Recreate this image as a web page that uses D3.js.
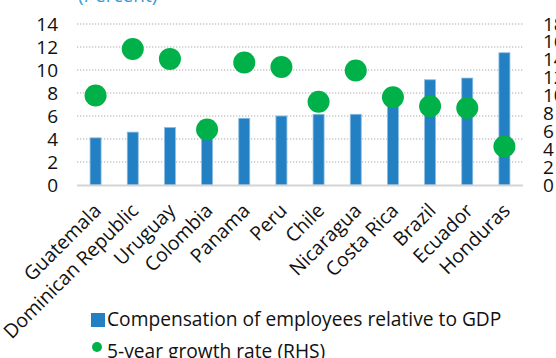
<!DOCTYPE html>
<html>
<head>
<meta charset="utf-8">
<script src="https://cdn.jsdelivr.net/npm/d3@7"></script>
<style>
    html, body { margin: 0; padding: 0; background: #fff; }
    svg text { font-family: "Open Sans", sans-serif; }
</style>
</head>
<body>
<svg id="chart" width="556" height="358"></svg>
<script>
// Chart data
var countries = ["Guatemala", "Dominican Republic", "Uruguay", "Colombia", "Panama", "Peru",
    "Chile", "Nicaragua", "Costa Rica", "Brazil", "Ecuador", "Honduras"];
var compensation = [4.1, 4.6, 5.0, 5.2, 5.8, 6.0, 6.15, 6.15, 7.6, 9.15, 9.3, 11.5];
var growth = [10.0, 15.2, 14.1, 6.2, 13.7, 13.2, 9.3, 12.8, 9.8, 8.8, 8.6, 4.3];
var leftTicks = [0, 2, 4, 6, 8, 10, 12, 14];
var rightTicks = [0, 2, 4, 6, 8, 10, 12, 14, 16, 18];

var svg = d3.select("#chart");

// plot area (named so they don't clash with window.top)
var plotLeft = 77, plotRight = 523, plotTop = 24, plotBottom = 185;

var x = d3.scaleBand()
    .domain(countries)
    .range([plotLeft, plotRight]);

var y = d3.scaleLinear().domain([0, 14]).range([plotBottom, plotTop]);
var y2 = d3.scaleLinear().domain([0, 18]).range([plotBottom, plotTop]);

// title, mostly cut off at the top
svg.append("text")
    .attr("x", 78)
    .attr("y", 2)
    .attr("fill", "#3a9ad4")
    .style("font-size", "19px")
    .text("(Percent)");

// dotted gridlines
svg.append("g")
    .selectAll("line")
    .data(leftTicks.slice(1))
    .join("line")
    .attr("x1", plotLeft)
    .attr("x2", plotRight)
    .attr("y1", function (d) { return y(d); })
    .attr("y2", function (d) { return y(d); })
    .attr("stroke", "#c8c8c8")
    .attr("stroke-width", 1.3)
    .attr("stroke-dasharray", "1.3,1.7");

// bars
var bw = 11;
svg.append("g")
    .selectAll("rect")
    .data(countries)
    .join("rect")
    .attr("x", function (d) { return x(d) + x.bandwidth() / 2 - bw / 2; })
    .attr("y", function (d, i) { return y(compensation[i]); })
    .attr("width", bw)
    .attr("height", function (d, i) { return plotBottom - y(compensation[i]); })
    .attr("fill", "#2280c3")
    .attr("stroke", "#8cbde4")
    .attr("stroke-width", 0.8);

// baseline
svg.append("line")
    .attr("x1", plotLeft)
    .attr("x2", plotRight)
    .attr("y1", plotBottom + 0.5)
    .attr("y2", plotBottom + 0.5)
    .attr("stroke", "#d4d4d4")
    .attr("stroke-width", 2);

// growth dots on the right axis
svg.append("g")
    .selectAll("circle")
    .data(countries)
    .join("circle")
    .attr("cx", function (d) { return x(d) + x.bandwidth() / 2; })
    .attr("cy", function (d, i) { return y2(growth[i]); })
    .attr("r", 11)
    .attr("fill", "#00b14a");

// left axis
var axL = svg.append("g")
    .attr("transform", "translate(" + (plotLeft - 19) + ",0)")
    .call(d3.axisLeft(y).tickValues(leftTicks).tickSize(0).tickPadding(0));
axL.select(".domain").remove();
axL.selectAll("text")
    .attr("fill", "#111")
    .style("font-size", "19px");

// right axis, labels crowd together like the original
var axR = svg.append("g")
    .attr("transform", "translate(543,0)")
    .call(d3.axisRight(y2).tickValues(rightTicks).tickSize(0).tickPadding(0));
axR.select(".domain").remove();
axR.selectAll("text")
    .attr("fill", "#111")
    .style("font-size", "19px");

// rotated category labels
svg.append("g")
    .selectAll("text")
    .data(countries)
    .join("text")
    .attr("transform", function (d) {
        return "translate(" + (x(d) + x.bandwidth() / 2 + 2) + ",207) rotate(-45)";
    })
    .attr("text-anchor", "end")
    .attr("dy", "0.35em")
    .attr("fill", "#111")
    .style("font-size", "19.5px")
    .text(function (d) { return d; });

// legend
var legend = svg.append("g");
legend.append("rect")
    .attr("x", 91)
    .attr("y", 313)
    .attr("width", 14)
    .attr("height", 14)
    .attr("fill", "#2280c3");
legend.append("text")
    .attr("x", 107)
    .attr("y", 326)
    .attr("fill", "#111")
    .style("font-size", "19.2px")
    .text("Compensation of employees relative to GDP");
legend.append("circle")
    .attr("cx", 97)
    .attr("cy", 347)
    .attr("r", 5)
    .attr("fill", "#00b14a");
legend.append("text")
    .attr("x", 107)
    .attr("y", 358)
    .attr("fill", "#111")
    .style("font-size", "19.2px")
    .text("5-year growth rate (RHS)");
</script>
</body>
</html>
